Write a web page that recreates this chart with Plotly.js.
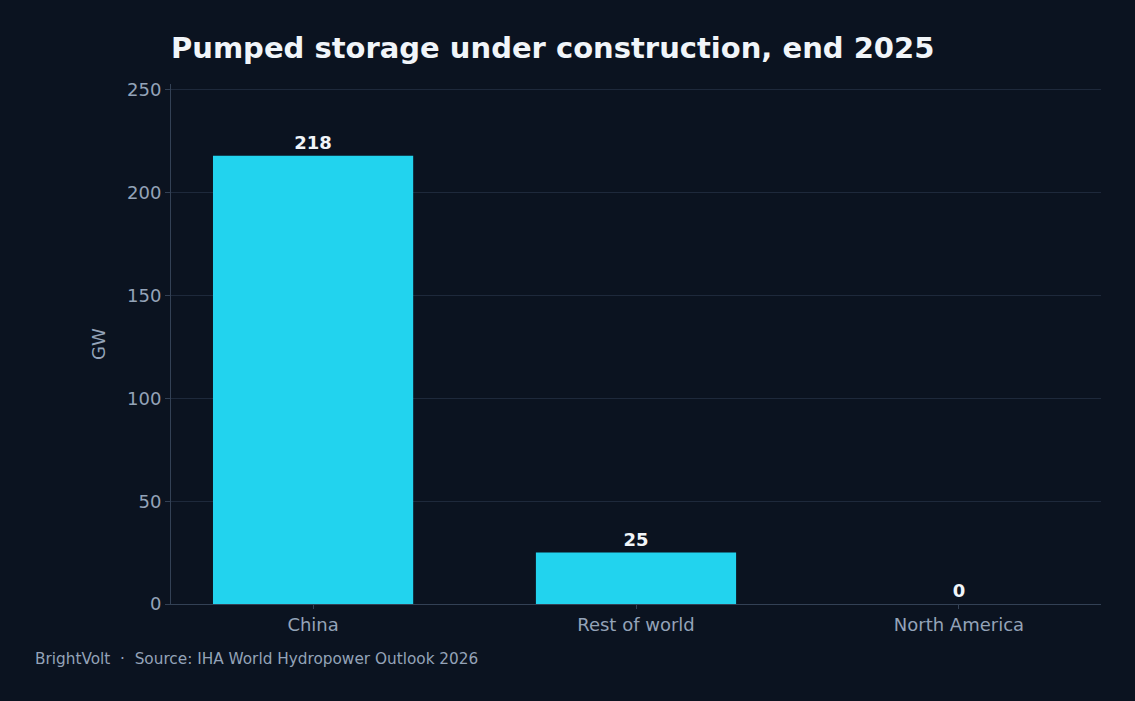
<!DOCTYPE html>
<html>
<head>
<meta charset="utf-8">
<script src="https://cdn.plot.ly/plotly-3.0.1.min.js"></script>
<style>
  html, body { margin: 0; padding: 0; background: #0b1320; }
  #chart { width: 1135px; height: 701px; }
</style>
</head>
<body>
<div id="chart"></div>
<script>
var regions = ['China', 'Rest of world', 'North America'];
var gwUnderConstruction = [218, 25, 0];
var valueLabels = ['218', '25', '0'];

var trace = {
  x: regions,
  y: gwUnderConstruction,
  type: 'bar',
  text: valueLabels,
  textposition: 'outside',
  cliponaxis: false,
  textfont: {family: 'DejaVu Sans', size: 18, color: '#f1f5f9', weight: 'bold'},
  marker: {color: '#22d3ee'},
  hoverinfo: 'x+y'
};

var layout = {
  width: 1135,
  height: 701,
  paper_bgcolor: '#0b1320',
  plot_bgcolor: '#0b1320',
  font: {family: 'DejaVu Sans', color: '#94a3b8'},
  margin: {l: 171, r: 34, t: 84, b: 97},
  bargap: 0.38,
  showlegend: false,
  title: {
    text: '<b>Pumped storage under construction, end 2025</b>',
    x: 171 / 1135, xanchor: 'left',
    y: 1 - 48 / 701, yanchor: 'middle',
    font: {family: 'DejaVu Sans', size: 29, color: '#f1f5f9'}
  },
  xaxis: {
    range: [-0.44, 2.44],
    showline: true, linecolor: '#334155', linewidth: 1,
    ticks: 'outside', ticklen: 4, tickcolor: '#334155',
    tickfont: {size: 18, color: '#94a3b8'},
    showgrid: false
  },
  yaxis: {
    range: [0, 252.9],
    title: {text: 'GW', font: {size: 18, color: '#94a3b8'}, standoff: 16},
    tickvals: [0, 50, 100, 150, 200, 250],
    showline: true, linecolor: '#334155', linewidth: 1,
    ticks: 'outside', ticklen: 5, tickcolor: '#334155',
    tickfont: {size: 18, color: '#94a3b8'},
    gridcolor: '#1e293b', zeroline: false
  },
  annotations: [{
    text: 'BrightVolt  ·  Source: IHA World Hydropower Outlook 2026',
    xref: 'paper', yref: 'paper',
    x: -138 / 930, xanchor: 'left',
    y: -(659 - 604) / 520, yanchor: 'middle',
    showarrow: false,
    font: {size: 15.3, color: '#94a3b8'}
  }]
};

Plotly.newPlot('chart', [trace], layout, {displayModeBar: false});
</script>
</body>
</html>
